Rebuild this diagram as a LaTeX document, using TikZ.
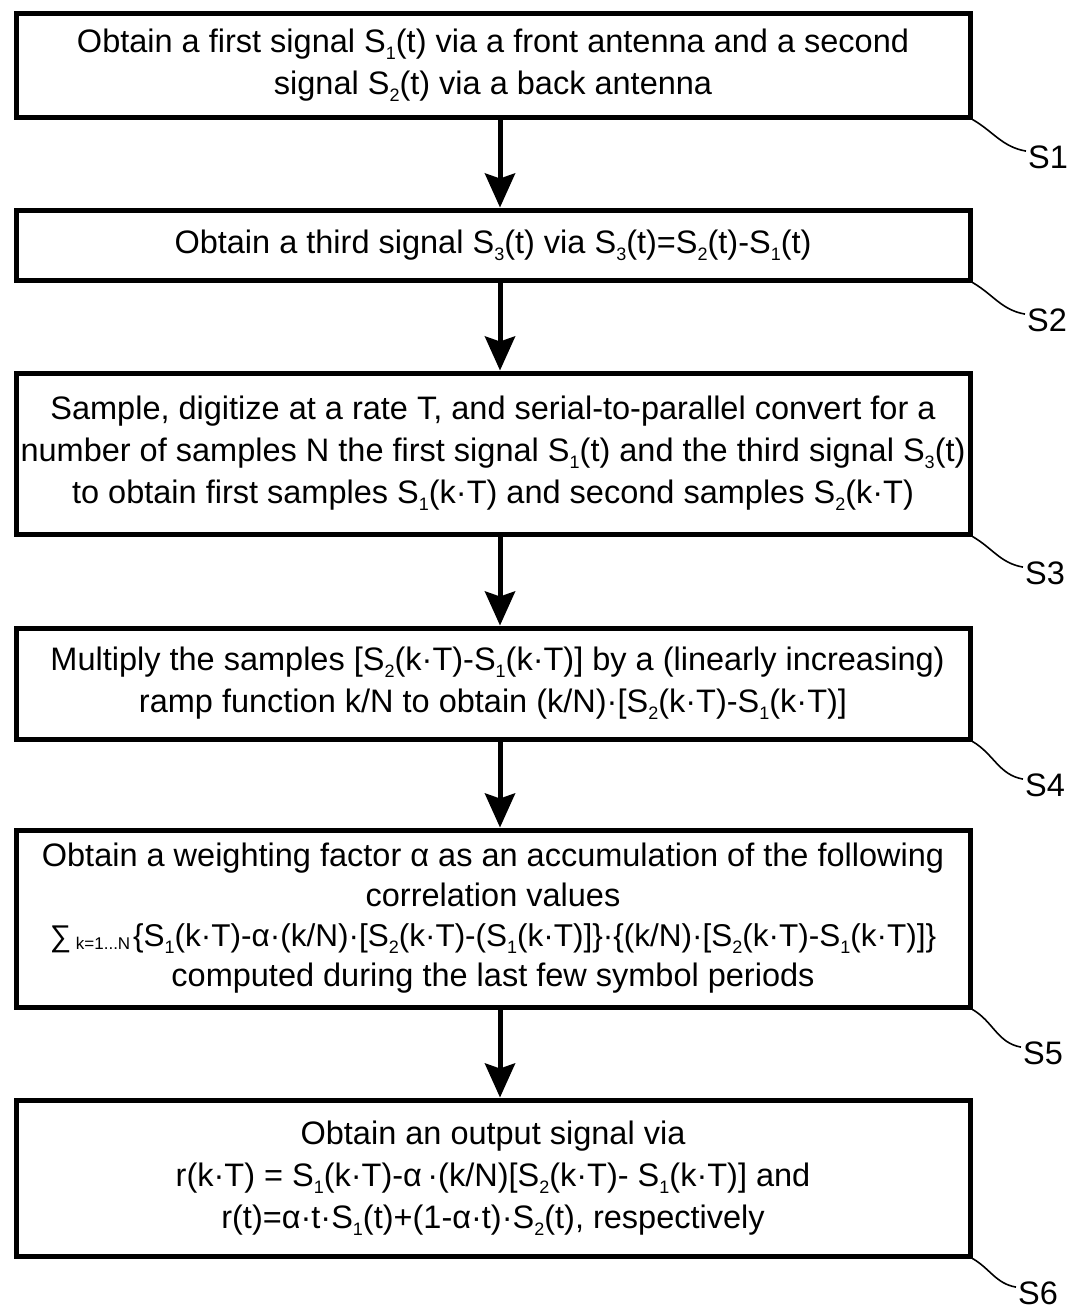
\documentclass[tikz,border=0pt]{standalone}
\usepackage{fontspec}
\setmainfont{Liberation Sans}
\usetikzlibrary{arrows.meta}
\tikzset{font=\fontsize{32.5}{42}\selectfont}
\tikzstyle{blok}=[draw,line width=5pt,minimum width=954pt,inner sep=0pt,align=center]
\tikzstyle{stap}=[inner sep=2pt]
\newcommand{\Sg}[1]{S\raisebox{-7pt}{\fontsize{18}{18}\selectfont #1}}
\newcommand{\md}{\textperiodcentered}
\newcommand{\kT}{(k\md T)}
\begin{document}
\begin{tikzpicture}[x=1pt,y=1pt]
\useasboundingbox (0,0) rectangle (1074,-1310);
\node[blok,minimum height=104pt] (A1) at (493,-65) {Obtain a first signal \Sg{1}(t) via a front antenna and a second\\signal \Sg{2}(t) via a back antenna};
\node[blok,minimum height=70pt] (A2) at (493,-245) {Obtain a third signal \Sg{3}(t) via \Sg{3}(t)=\Sg{2}(t)-\Sg{1}(t)};
\node[blok,minimum height=161pt] (A3) at (493,-453.5) {Sample, digitize at a rate T, and serial-to-parallel convert for a\\number of samples N the first signal \Sg{1}(t) and the third signal \Sg{3}(t)\\to obtain first samples \Sg{1}\kT{} and second samples \Sg{2}\kT};
\node[blok,minimum height=111pt] (A4) at (493,-683.5) {\ Multiply the samples [\Sg{2}\kT-\Sg{1}\kT] by a (linearly increasing)\\ramp function k/N to obtain (k/N)\md[\Sg{2}\kT-\Sg{1}\kT]};
\node[blok,minimum height=177pt,font=\fontsize{32.5}{40}\selectfont] (A5) at (493,-918.5) {Obtain a weighting factor α as an accumulation of the following\\correlation values\\{\fontsize{30}{30}\selectfont ∑}\raisebox{-3pt}{\fontsize{17}{17}\selectfont\ k=1...N\,}{\fontsize{31.5}{40}\selectfont\{\Sg{1}\kT-α\md(k/N)\md[\Sg{2}\kT-(\Sg{1}\kT]\}\md\{(k/N)\md[\Sg{2}\kT-\Sg{1}\kT]\}}\\computed during the last few symbol periods};
\node[blok,minimum height=156pt] (A6) at (493,-1178) {Obtain an output signal via\\r\kT{} = \Sg{1}\kT-α\,\md(k/N)[\Sg{2}\kT- \Sg{1}\kT] and\\r(t)=α\md t\md\Sg{1}(t)+(1-α\md t)\md\Sg{2}(t), respectively};
\node[stap] (L1) at (1048,-157) {S1};
\node[stap] (L2) at (1047,-320) {S2};
\node[stap] (L3) at (1045,-573) {S3};
\node[stap] (L4) at (1045,-785) {S4};
\node[stap] (L5) at (1043,-1053) {S5};
\node[stap] (L6) at (1038,-1293) {S6};
\path[line width=5pt,-{Stealth[length=34pt,width=30pt,inset=5pt]}]
([xshift=7pt]A1.south) edge ([xshift=7pt]A2.north)
([xshift=7pt]A2.south) edge ([xshift=7pt]A3.north)
([xshift=7pt]A3.south) edge ([xshift=7pt]A4.north)
([xshift=7pt]A4.south) edge ([xshift=7pt]A5.north)
([xshift=7pt]A5.south) edge ([xshift=7pt]A6.north);
\path[line width=1.6pt]
(A1.south east) edge[out=-30,in=170] (L1.165)
(A2.south east) edge[out=-30,in=170] (L2.165)
(A3.south east) edge[out=-30,in=170] (L3.165)
(A4.south east) edge[out=-30,in=170] (L4.165)
(A5.south east) edge[out=-30,in=170] (L5.165)
(A6.south east) edge[out=-30,in=170] (L6.165);
\end{tikzpicture}
\end{document}
